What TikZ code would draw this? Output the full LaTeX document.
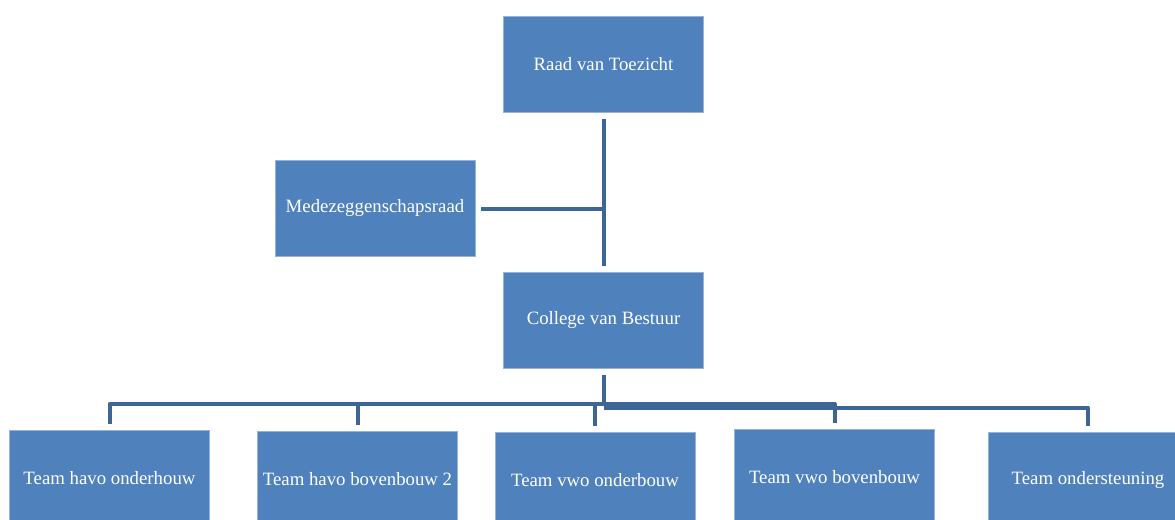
\documentclass[tikz,border=0pt]{standalone}
\usepackage{fontspec}
\setmainfont{Liberation Serif}
\definecolor{boxblue}{RGB}{79,129,189}
\definecolor{boxedge}{RGB}{150,178,214}
\definecolor{lineblue}{RGB}{61,101,150}
\begin{document}
\begin{tikzpicture}[x=0.5pt, y=-0.5pt, font=\fontsize{9.4}{11}\selectfont,
		unit/.style={fill=boxblue, draw=boxedge, line width=0.4pt, text=white, minimum width=100pt, minimum height=48pt, inner sep=0pt},
		conn/.style={draw=lineblue, line width=2pt, line join=round}]
		\useasboundingbox (0,0) rectangle (1175,520);
		\clip (0,0) rectangle (1175,520);

		\node[unit] (raad) at (603.5, 64) {Raad van Toezicht};
		\node[unit] (mr) at (375, 208.5) {Medezeggenschapsraad};
		\node[unit] (college) at (603.5, 320.5) {College van Bestuur};
		\node[unit] (havoOb) at (109.5, 478) {Team havo onderhouw\hspace{10pt}};
		\node[unit] (havoBb) at (357.5, 479) {Team havo bovenbouw 2};
		\node[unit] (vwoOb) at (595, 480) {Team vwo onderbouw};
		\node[unit] (vwoBb) at (834.5, 477) {Team vwo bovenbouw};
		\node[unit] (steun) at (1088, 480) {Team ondersteuning};

		\coordinate (bus) at (603.5, 404);
		\coordinate (bus2) at (603.5, 407.5);

		\draw[conn, shorten <=3.5pt, shorten >=3pt] (raad) -- (college);
		\draw[conn, shorten <=3pt] (mr.east) -- (mr.east -| raad.south);
		\draw[conn, shorten <=3pt] (college) -- (bus);
		\draw[conn, shorten >=3pt] (bus) -| (havoOb);
		\draw[conn, shorten >=3pt] (bus) -| (havoBb);
		\draw[conn, shorten >=3pt] (bus) -| (vwoOb);
		\draw[conn, shorten >=3pt] (bus) -| (vwoBb);
		\draw[conn, shorten >=3pt] (bus2) -| (steun);
	\end{tikzpicture}
\end{document}
